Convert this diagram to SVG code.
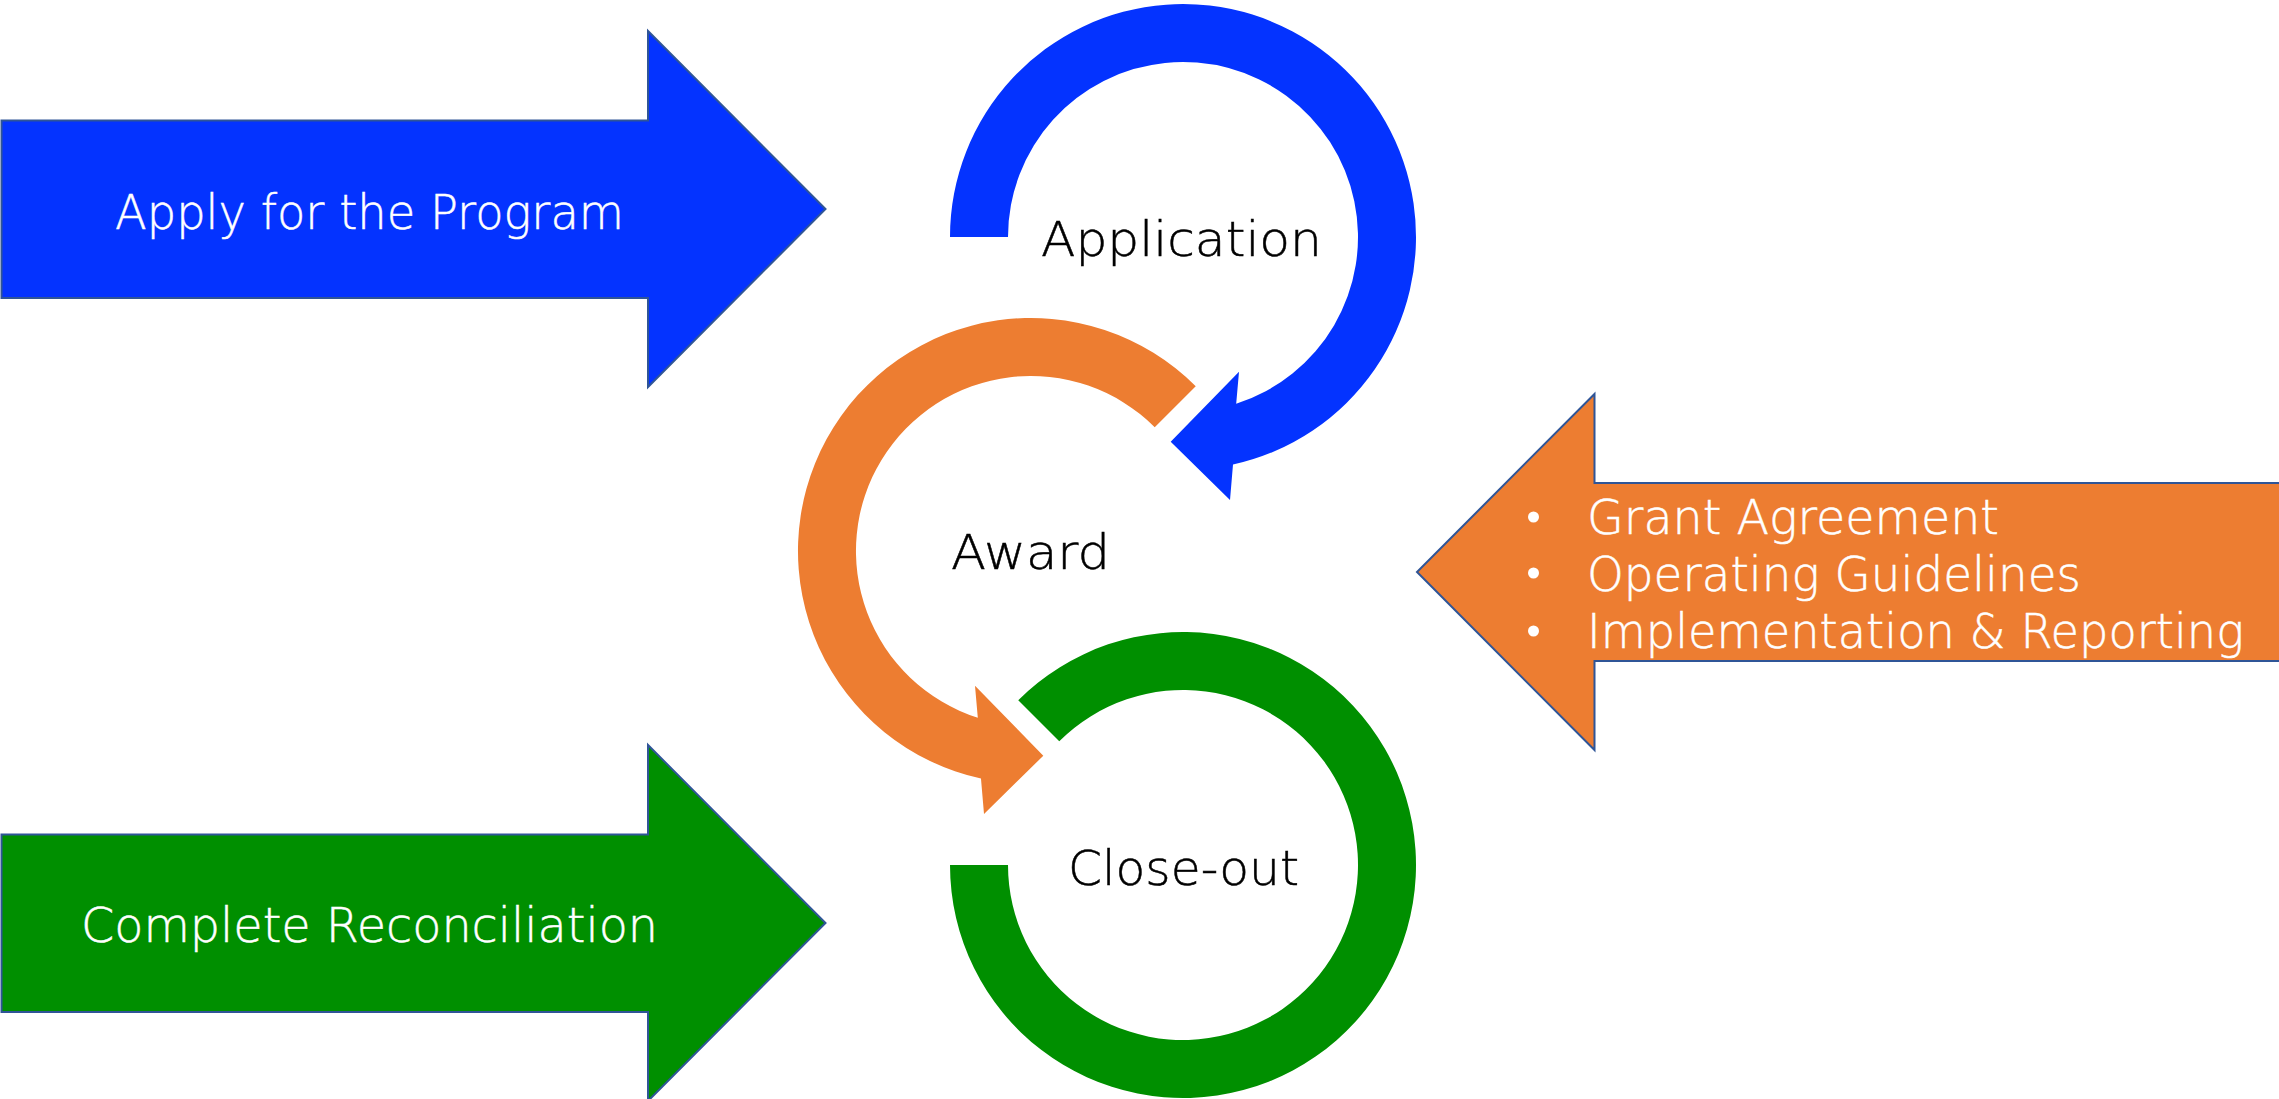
<svg xmlns="http://www.w3.org/2000/svg" width="2279" height="1099" viewBox="0 0 2279 1099">
  <style>
    .big { stroke: #2F5597; stroke-width: 2; stroke-linejoin: miter; }
    .blue { fill: #0433FF; }
    .orange { fill: #ED7D31; }
    .green { fill: #008F00; }
    text { font-family: "DejaVu Sans", "Liberation Sans", sans-serif; font-weight: 300; font-size: 48px; stroke-width: 0.5; }
    .w { fill: #FFFFFF; }
    text.w { stroke: #FFFFFF; }
    .k { fill: #000000; }
    text.k { stroke: #000000; }
  </style>
  <rect width="2279" height="1099" fill="#FFFFFF"/>

  <!-- Side block arrows -->
  <g id="apply-arrow">
    <polygon class="big blue" points="1.5,120.5 648,120.5 648,31 825.5,209 648,387 648,298 1.5,298"/>
    <text class="w" x="115" y="229" textLength="509" lengthAdjust="spacingAndGlyphs">Apply for the Program</text>
  </g>

  <g id="reconcile-arrow">
    <polygon class="big green" points="1.5,834.5 648,834.5 648,745 825.5,923 648,1101 648,1012 1.5,1012"/>
    <text class="w" x="81" y="942" textLength="577" lengthAdjust="spacingAndGlyphs">Complete Reconciliation</text>
  </g>

  <g id="agreement-arrow">
    <polygon class="big orange" points="2290,483 1594.5,483 1594.5,394 1417,572 1594.5,750 1594.5,661 2290,661"/>
    <circle class="w" cx="1533.5" cy="517" r="5.5"/>
    <circle class="w" cx="1533.5" cy="573" r="5.5"/>
    <circle class="w" cx="1533.5" cy="631" r="5.5"/>
    <text class="w" x="1587" y="534" textLength="412" lengthAdjust="spacingAndGlyphs">Grant Agreement</text>
    <text class="w" x="1587" y="591" textLength="494" lengthAdjust="spacingAndGlyphs">Operating Guidelines</text>
    <text class="w" x="1587" y="648" textLength="657" lengthAdjust="spacingAndGlyphs">Implementation &amp; Reporting</text>
  </g>

  <!-- Cycle stages: each ring is a circular arrow feeding the next stage -->
  <g id="stage-application">
    <path class="blue" d="M950,237 A233,233 0 1 1 1233,464.6 L1230,500 L1170.7,441.7 L1239,371.7 L1236.2,403.7 A175,175 0 1 0 1008,237 Z"/>
    <text class="k" x="1041" y="256" textLength="281" lengthAdjust="spacingAndGlyphs">Application</text>
  </g>

  <g id="stage-award">
    <path class="orange" d="M1195.75,386.25 A233,233 0 1 0 980.97,778.56 L984,814 L1043.3,755.7 L975,685.7 L977.8,717.7 A175,175 0 1 1 1154.74,427.26 Z"/>
    <text class="k" x="951" y="569" textLength="159" lengthAdjust="spacingAndGlyphs">Award</text>
  </g>

  <g id="stage-closeout">
    <path class="green" d="M1018.25,700.25 A233,233 0 1 1 950,865 L1008,865 A175,175 0 1 0 1059.26,741.26 Z"/>
    <text class="k" x="1068" y="885" textLength="231" lengthAdjust="spacingAndGlyphs">Close-out</text>
  </g>

  <g id="connectors"></g>
</svg>
